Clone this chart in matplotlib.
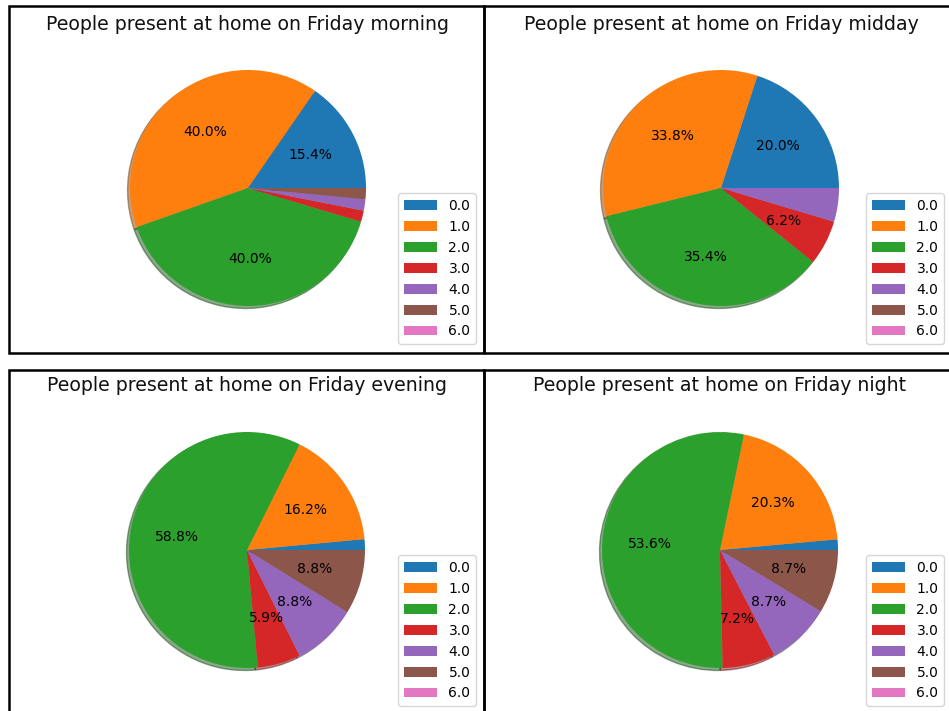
import matplotlib.pyplot as plt
from matplotlib.patches import Rectangle

W, H = 949, 711

labels = ["0.0", "1.0", "2.0", "3.0", "4.0", "5.0", "6.0"]
periods = ["morning", "midday", "evening", "night"]

# head counts per number of people at home
morning = [10, 26, 26, 1, 1, 1, 0]
midday = [13, 22, 23, 4, 3, 0, 0]
evening = [1, 11, 40, 4, 6, 6, 0]
night = [1, 14, 37, 5, 6, 6, 0]
counts = [morning, midday, evening, night]

colors = plt.rcParams["axes.prop_cycle"].by_key()["color"][:7]


def fx(x):
    return x / W


def fy(y):
    return 1 - y / H


def autopct(p):
    return f"{p:.1f}%" if p > 5 else ""


fig = plt.figure(figsize=(W / 100, H / 100), dpi=100)

# panel frames (left, top, right, bottom) in pixels
frames = [(8.5, 5.5, 484, 352.5), (484, 5.5, 990, 352.5),
          (8.5, 370, 484, 740), (484, 370, 990, 740)]
# pie centres and radius in pixels
centres = [(248, 188), (721, 188), (247, 550), (720, 550)]
radius = 118
legend_corner = [(476, 344), (944, 344), (476, 706), (944, 706)]
title_x = [248, 721, 247, 720]
title_y = [24, 24, 386, 386]

for i in range(4):
    l, t, r, b = frames[i]
    fig.add_artist(Rectangle((fx(l), fy(b)), fx(r - l), (b - t) / H,
                             transform=fig.transFigure, fill=False,
                             edgecolor="black", linewidth=1.8, clip_on=False))

    cx, cy = centres[i]
    half = radius * 1.25
    ax = fig.add_axes([fx(cx - half), fy(cy + half), 2 * half / W, 2 * half / H])
    wedges, texts, autotexts = ax.pie(counts[i], colors=colors,
                                      shadow={"ox": -0.015, "oy": -0.015, "shade": 0.5},
                                      autopct=autopct, textprops={"fontsize": 10})
    ax.set_xlim(-1.25, 1.25)
    ax.set_ylim(-1.25, 1.25)

    fig.text(fx(title_x[i]), fy(title_y[i]),
             f"People present at home on Friday {periods[i]}",
             ha="center", va="center", fontsize=13.6, color="#111111")

    lx, ly = legend_corner[i]
    ax.legend(wedges, labels, loc="lower right", fontsize=10,
              bbox_to_anchor=(fx(lx), fy(ly)), bbox_transform=fig.transFigure,
              borderaxespad=0, handlelength=2.4)

fig.savefig("out.png", dpi=100)
